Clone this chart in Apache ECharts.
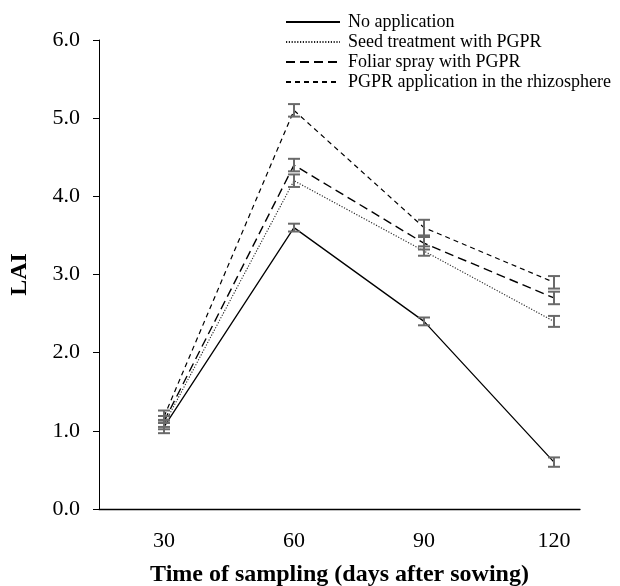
<!DOCTYPE html>
<html>
<head>
<meta charset="utf-8">
<script src="https://cdn.jsdelivr.net/npm/echarts@6/dist/echarts.min.js"></script>
<style>html,body{margin:0;padding:0;background:#fff}#c{width:620px;height:586px}</style>
</head>
<body>
<div id="c"></div>
<script>
const days = [30, 60, 90, 120];
const seriesNames = ['No application', 'Seed treatment with PGPR', 'Foliar spray with PGPR', 'PGPR application in the rhizosphere'];
const noApp = [1.05, 3.6, 2.4, 0.6];
const noAppErr = [0.08, 0.05, 0.05, 0.06];
const seed = [1.08, 4.2, 3.3, 2.4];
const seedErr = [0.06, 0.08, 0.06, 0.07];
const foliar = [1.12, 4.4, 3.4, 2.7];
const foliarErr = [0.07, 0.08, 0.08, 0.08];
const rhizo = [1.18, 5.1, 3.6, 2.9];
const rhizoErr = [0.08, 0.08, 0.1, 0.08];
const yTicks = [0, 1, 2, 3, 4, 5, 6];

const FONT = 'Liberation Serif';
const vals = [noApp, seed, foliar, rhizo];
const errs = [noAppErr, seedErr, foliarErr, rhizoErr];
const styles = [
  {type: 'solid', width: 1.3, color: '#000'},
  {type: [1.2, 1.6], width: 1.1, color: '#222'},
  {type: [9, 5], width: 1.4, color: '#000'},
  {type: [5, 4], width: 1.2, color: '#000'}
];

const lineSeries = vals.map((v, i) => ({
  name: seriesNames[i],
  type: 'line',
  symbol: 'none',
  data: days.map((d, j) => [d, v[j]]),
  lineStyle: styles[i],
  itemStyle: {color: styles[i].color},
  z: 2
}));

const errData = [];
vals.forEach((v, i) => days.forEach((d, j) => errData.push([d, v[j] - errs[i][j], v[j] + errs[i][j]])));

const errSeries = {
  type: 'custom',
  z: 3,
  data: errData,
  renderItem: function (params, api) {
    const x = api.value(0);
    const lo = api.coord([x, api.value(1)]);
    const hi = api.coord([x, api.value(2)]);
    const hw = 6;
    const st = {stroke: '#6a6a6a', lineWidth: 2};
    return {
      type: 'group',
      children: [
        {type: 'line', shape: {x1: lo[0], y1: lo[1], x2: hi[0], y2: hi[1]}, style: st},
        {type: 'line', shape: {x1: lo[0] - hw, y1: lo[1], x2: lo[0] + hw, y2: lo[1]}, style: st},
        {type: 'line', shape: {x1: hi[0] - hw, y1: hi[1], x2: hi[0] + hw, y2: hi[1]}, style: st}
      ]
    };
  }
};

const chart = echarts.init(document.getElementById('c'));
chart.setOption({
  animation: false,
  backgroundColor: '#fff',
  textStyle: {fontFamily: FONT},
  grid: {left: 99, right: 40, top: 40, bottom: 77, containLabel: false, outerBoundsMode: 'none'},
  legend: {
    orient: 'vertical',
    left: 280,
    top: 8,
    itemWidth: 54,
    itemHeight: 12,
    itemGap: 2,
    data: seriesNames,
    itemStyle: {opacity: 0},
    textStyle: {fontFamily: FONT, fontSize: 18, color: '#000', padding: [0, 0, 0, 3]}
  },
  xAxis: {
    type: 'value',
    min: 15,
    max: 126,
    name: 'Time of sampling (days after sowing)',
    nameLocation: 'middle',
    nameGap: 54,
    nameTextStyle: {fontFamily: FONT, fontSize: 24, fontWeight: 'bold', color: '#000'},
    axisLine: {lineStyle: {color: '#000', width: 1.3}},
    axisTick: {show: false},
    splitLine: {show: false},
    axisLabel: {customValues: days, fontFamily: FONT, fontSize: 22, color: '#000', margin: 21}
  },
  yAxis: {
    type: 'value',
    min: 0,
    max: 6,
    interval: 1,
    name: 'LAI',
    nameLocation: 'middle',
    nameGap: 67,
    nameTextStyle: {fontFamily: FONT, fontSize: 24, fontWeight: 'bold', color: '#000'},
    axisLine: {show: true, lineStyle: {color: '#000', width: 1}},
    axisTick: {show: true, inside: false, length: 6, lineStyle: {color: '#000'}},
    splitLine: {show: false},
    axisLabel: {customValues: yTicks, formatter: v => v.toFixed(1), fontFamily: FONT, fontSize: 22, color: '#000', margin: 19}
  },
  series: lineSeries.concat([errSeries])
});
</script>
</body>
</html>
